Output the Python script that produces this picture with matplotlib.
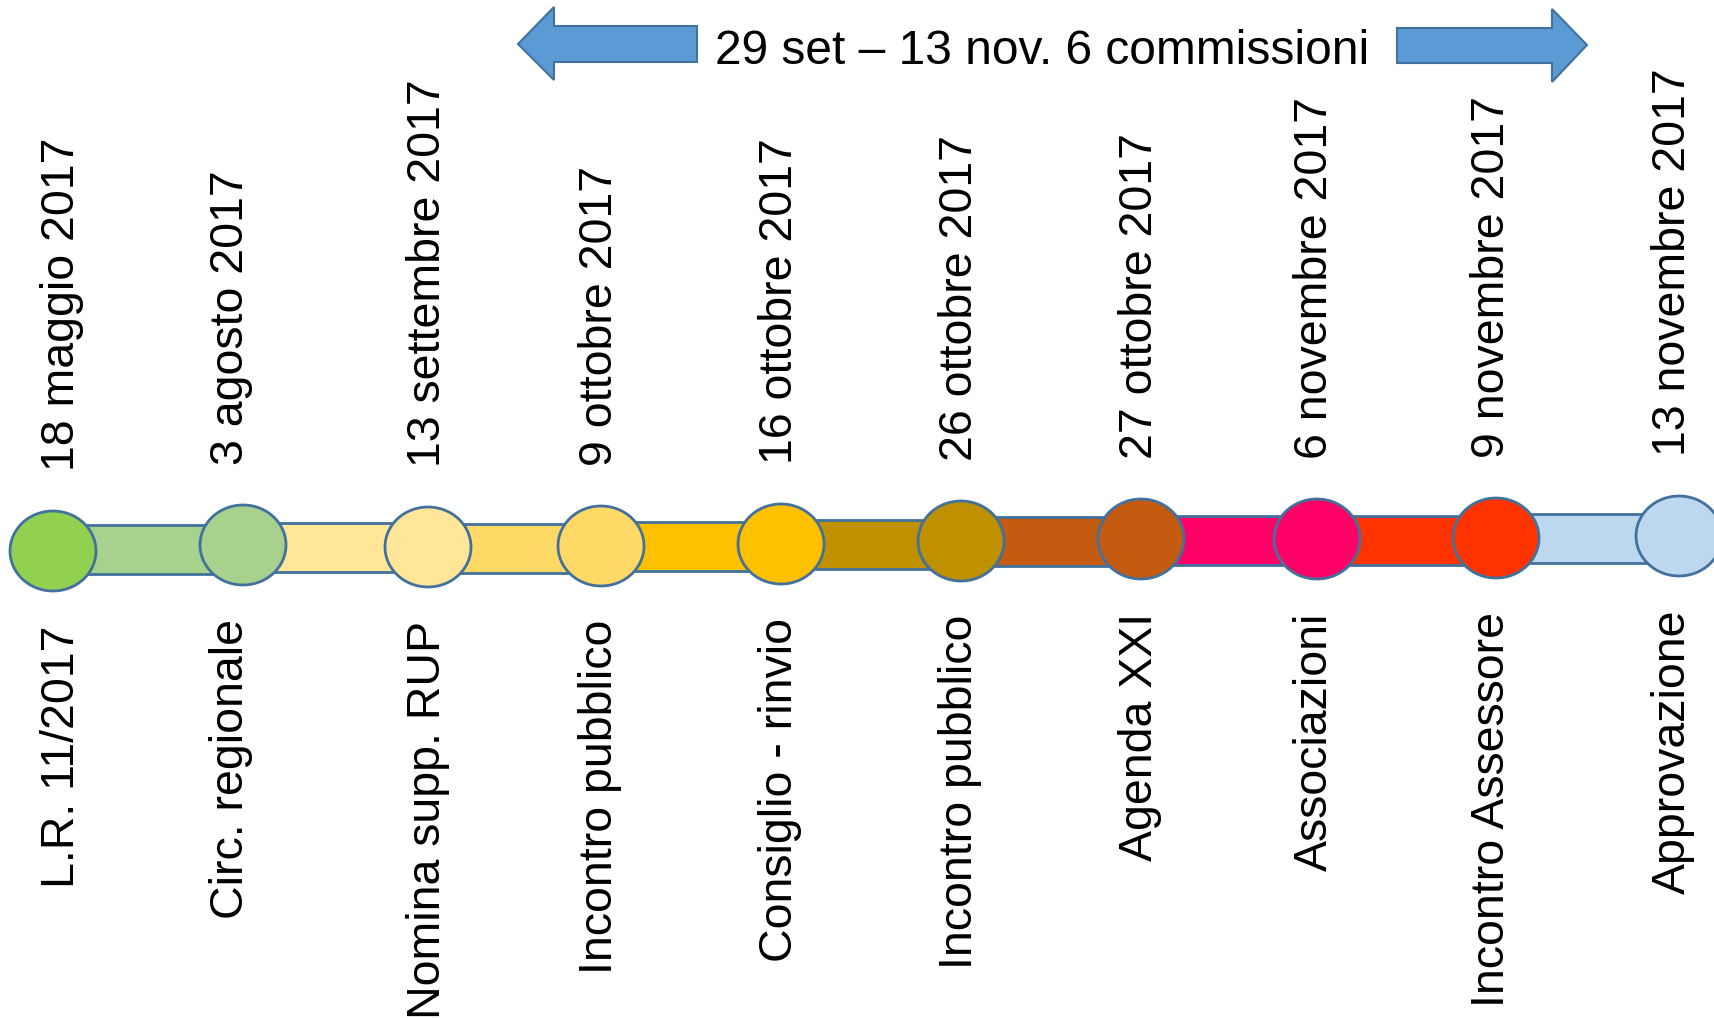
import matplotlib
matplotlib.use("Agg")
import matplotlib.pyplot as plt
from matplotlib.patches import Ellipse, Rectangle, Polygon

# date e tappe
dates = ['18 maggio 2017', '3 agosto 2017', '13 settembre 2017', '9 ottobre 2017',
         '16 ottobre 2017', '26 ottobre 2017', '27 ottobre 2017', '6 novembre 2017',
         '9 novembre 2017', '13 novembre 2017']
events = ['L.R. 11/2017', 'Circ. regionale', 'Nomina supp. RUP', 'Incontro pubblico',
          'Consiglio - rinvio', 'Incontro pubblico', 'Agenda XXI', 'Associazioni',
          'Incontro Assessore', 'Approvazione']
colors = ['#92D050', '#A9D18E', '#FFE699', '#FFD966', '#FFC000',
          '#BF9000', '#C55A11', '#FF0066', '#FF3300', '#BDD7EE']
period_text = '29 set \u2013 13 nov. 6 commissioni'

# layout (pixel)
circle_x = [53, 243, 428, 601, 781, 961, 1141, 1317, 1496, 1679]
circle_y = [551, 545, 547, 546, 544, 541, 539, 539, 538, 536]
label_x = [62, 231, 428, 600, 780, 960, 1140, 1315, 1492, 1673]

W, H = 1715, 1018
edge = '#41719C'
fig = plt.figure(figsize=(W / 100, H / 100), dpi=100)
ax = fig.add_axes([0, 0, 1, 1])
ax.set_xlim(0, W)
ax.set_ylim(H, 0)
ax.axis('off')

font = ['Liberation Sans', 'DejaVu Sans']
fs = 33.5

# barre di collegamento
bar_h = 49
for i in range(len(dates) - 1):
    x0, x1 = circle_x[i], circle_x[i + 1]
    yc = (circle_y[i] + circle_y[i + 1]) / 2 + 1.5
    ax.add_patch(Rectangle((x0, yc - bar_h / 2), x1 - x0, bar_h,
                           facecolor=colors[i + 1], edgecolor=edge, lw=2, zorder=1))

# cerchi + etichette
for i in range(len(dates)):
    ax.add_patch(Ellipse((circle_x[i], circle_y[i]), 86, 80,
                         facecolor=colors[i], edgecolor=edge, lw=2, zorder=2))
    ax.text(label_x[i], circle_y[i] - 80, dates[i], rotation=90, ha='center', va='bottom',
            fontsize=fs, family=font, color='black')
    ax.text(label_x[i], circle_y[i] + 74, events[i], rotation=90, ha='center', va='top',
            fontsize=fs, family=font, color='black')

# frecce in alto
arrow_fc = '#5B9BD5'
left = [(518, 44), (554, 7), (554, 26), (697, 26), (697, 62), (554, 62), (554, 80)]
right = [(1587, 45), (1552, 9), (1552, 28), (1397, 28), (1397, 63), (1552, 63), (1552, 82)]
ax.add_patch(Polygon(left, closed=True, facecolor=arrow_fc, edgecolor=edge, lw=1.5))
ax.add_patch(Polygon(right, closed=True, facecolor=arrow_fc, edgecolor=edge, lw=1.5))
ax.text(1042, 64, period_text, ha='center', va='baseline', fontsize=34.5, family=font,
        color='black')

fig.savefig('out.png', dpi=100, facecolor='white')
